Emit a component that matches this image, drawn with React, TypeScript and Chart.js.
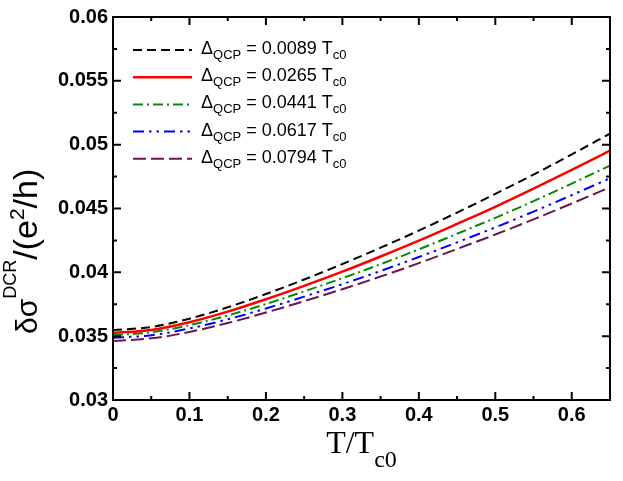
import { useEffect, useRef } from 'react';
import { Chart, registerables } from 'chart.js';

Chart.register(...registerables);

// T / T_c0 sampling points
const tOverTc0 = [0, 0.05, 0.1, 0.15, 0.2, 0.25, 0.3, 0.35, 0.4, 0.45, 0.5, 0.55, 0.6, 0.65];

// Delta_QCP values (in units of T_c0) for the legend
const deltaLabels = ['0.0089', '0.0265', '0.0441', '0.0617', '0.0794'];

// delta sigma^DCR / (e^2/h)
const sigma0089 = [0.03547, 0.03572, 0.03637, 0.03726, 0.0383, 0.03944, 0.04065, 0.04193, 0.04327, 0.04468, 0.04614, 0.04766, 0.04924, 0.05087];
const sigma0265 = [0.03526, 0.03549, 0.03609, 0.03692, 0.03789, 0.03894, 0.04005, 0.04124, 0.04248, 0.04379, 0.04513, 0.04655, 0.04802, 0.04953];
const sigma0441 = [0.03508, 0.0353, 0.03586, 0.03662, 0.03752, 0.03851, 0.03954, 0.04064, 0.0418, 0.04302, 0.04427, 0.04558, 0.04695, 0.04836];
const sigma0617 = [0.03487, 0.03507, 0.0356, 0.03632, 0.03717, 0.0381, 0.03907, 0.04011, 0.0412, 0.04235, 0.04352, 0.04476, 0.04605, 0.04737];
const sigma0794 = [0.03463, 0.03483, 0.03533, 0.03603, 0.03685, 0.03774, 0.03868, 0.03967, 0.04072, 0.04183, 0.04296, 0.04415, 0.04539, 0.04667];

const SANS = '"Liberation Sans", Arial, sans-serif';
const SERIF = '"Liberation Serif", "Times New Roman", serif';

type Run = { text: string; font: string; dy: number };

function drawRuns(ctx: CanvasRenderingContext2D, x: number, y: number, runs: Run[]) {
  let cx = x;
  runs.forEach(r => {
    ctx.font = r.font;
    ctx.fillText(r.text, cx, y + r.dy);
    cx += ctx.measureText(r.text).width;
  });
  return cx - x;
}

function runsWidth(ctx: CanvasRenderingContext2D, runs: Run[]) {
  let w = 0;
  runs.forEach(r => {
    ctx.font = r.font;
    w += ctx.measureText(r.text).width;
  });
  return w;
}

const isMajor = (v: number, step: number) => Math.abs(v / step - Math.round(v / step)) < 1e-6;

// box round the plot with inward ticks on all four sides
const frameTicks = {
  id: 'frameTicks',
  afterDatasetsDraw(chart: any) {
    const { ctx, chartArea: a, scales } = chart;
    ctx.save();
    ctx.strokeStyle = '#000';
    ctx.lineWidth = 2;
    ctx.beginPath();
    scales.x.ticks.forEach((t: any) => {
      const px = scales.x.getPixelForValue(t.value);
      const len = isMajor(t.value, 0.1) ? 8 : 4;
      ctx.moveTo(px, a.bottom);
      ctx.lineTo(px, a.bottom - len);
      ctx.moveTo(px, a.top);
      ctx.lineTo(px, a.top + len);
    });
    scales.y.ticks.forEach((t: any) => {
      const py = scales.y.getPixelForValue(t.value);
      const len = isMajor(t.value, 0.005) ? 8 : 4;
      ctx.moveTo(a.left, py);
      ctx.lineTo(a.left + len, py);
      ctx.moveTo(a.right, py);
      ctx.lineTo(a.right - len, py);
    });
    ctx.stroke();
    ctx.strokeRect(a.left, a.top, a.right - a.left, a.bottom - a.top);
    ctx.restore();
  },
};

// axis titles with sub- and superscripts
const axisTitles = {
  id: 'axisTitles',
  afterDraw(chart: any) {
    const { ctx, chartArea: a } = chart;
    ctx.save();
    ctx.fillStyle = '#000';
    ctx.textBaseline = 'alphabetic';

    const xRuns: Run[] = [
      { text: 'T/T', font: `32px ${SERIF}`, dy: 0 },
      { text: 'c0', font: `24px ${SERIF}`, dy: 14 },
    ];
    const xw = runsWidth(ctx, xRuns);
    drawRuns(ctx, (a.left + a.right) / 2 - xw / 2, 453, xRuns);

    const yRuns: Run[] = [
      { text: 'δσ', font: `30px ${SANS}`, dy: 0 },
      { text: 'DCR', font: `18px ${SANS}`, dy: -21 },
      { text: '/(e', font: `34px ${SANS}`, dy: 0 },
      { text: '2', font: `21px ${SANS}`, dy: -13 },
      { text: '/h)', font: `34px ${SANS}`, dy: 0 },
    ];
    ctx.translate(37, 334);
    ctx.rotate(-Math.PI / 2);
    drawRuns(ctx, 0, 0, yRuns);
    ctx.restore();
  },
};

// legend drawn by hand so the subscripts can be set
const subLegend = {
  id: 'subLegend',
  afterDraw(chart: any) {
    const { ctx } = chart;
    ctx.save();
    chart.data.datasets.forEach((ds: any, i: number) => {
      const y = 50 + i * 27.2;
      ctx.strokeStyle = ds.borderColor;
      ctx.lineWidth = ds.borderWidth;
      ctx.setLineDash(ds.borderDash || []);
      ctx.beginPath();
      ctx.moveTo(133, y);
      ctx.lineTo(192, y);
      ctx.stroke();
      ctx.setLineDash([]);
      ctx.fillStyle = '#000';
      drawRuns(ctx, 201, y + 4, [
        { text: 'Δ', font: `18px ${SANS}`, dy: 0 },
        { text: 'QCP', font: `13px ${SANS}`, dy: 5 },
        { text: ` = ${deltaLabels[i]} T`, font: `18px ${SANS}`, dy: 0 },
        { text: 'c0', font: `13px ${SANS}`, dy: 5 },
      ]);
    });
    ctx.restore();
  },
};

const seriesStyles = [
  { values: sigma0089, color: '#000000', width: 2, dash: [9, 5] },
  { values: sigma0265, color: '#ff0000', width: 2.5, dash: [] },
  { values: sigma0441, color: '#008b00', width: 2, dash: [10, 4, 2, 4] },
  { values: sigma0617, color: '#0000ff', width: 2, dash: [11, 5, 2.5, 5, 2.5, 5] },
  { values: sigma0794, color: '#6b1552', width: 2, dash: [13, 5] },
];

export default function App() {
  const canvasRef = useRef<HTMLCanvasElement>(null);

  useEffect(() => {
    document.body.style.margin = '0';
    if (!canvasRef.current) return;

    const chart = new Chart(canvasRef.current, {
      type: 'line',
      data: {
        datasets: seriesStyles.map((s, i) => ({
          label: deltaLabels[i],
          data: tOverTc0.map((t, k) => ({ x: t, y: s.values[k] })),
          borderColor: s.color,
          borderWidth: s.width,
          borderDash: s.dash,
          pointRadius: 0,
          fill: false,
          cubicInterpolationMode: 'monotone' as const,
        })),
      },
      options: {
        responsive: false,
        animation: false,
        layout: { padding: { top: 16, right: 13, left: 0, bottom: 0 } },
        plugins: {
          legend: { display: false },
          tooltip: { enabled: false },
        },
        scales: {
          x: {
            type: 'linear',
            min: 0,
            max: 0.65,
            grid: { display: false, drawTicks: false },
            border: { display: false },
            afterFit: (s: any) => { s.height = 81; },
            ticks: {
              stepSize: 0.05,
              autoSkip: false,
              maxRotation: 0,
              padding: 3,
              color: '#000',
              font: { family: SANS, size: 20, weight: 'bold' },
              callback: (v: any) => (isMajor(Number(v), 0.1) ? String(+Number(v).toFixed(2)) : ''),
            },
          },
          y: {
            type: 'linear',
            min: 0.03,
            max: 0.06,
            grid: { display: false, drawTicks: false },
            border: { display: false },
            afterFit: (s: any) => { s.width = 113; },
            ticks: {
              stepSize: 0.0025,
              autoSkip: false,
              padding: 5,
              color: '#000',
              font: { family: SANS, size: 20, weight: 'bold' },
              callback: (v: any) => (isMajor(Number(v), 0.005) ? String(+Number(v).toFixed(4)) : ''),
            },
          },
        },
      },
      plugins: [frameTicks, axisTitles, subLegend],
    });

    return () => chart.destroy();
  }, []);

  return <canvas ref={canvasRef} width={623} height={481} style={{ display: 'block' }} />;
}
